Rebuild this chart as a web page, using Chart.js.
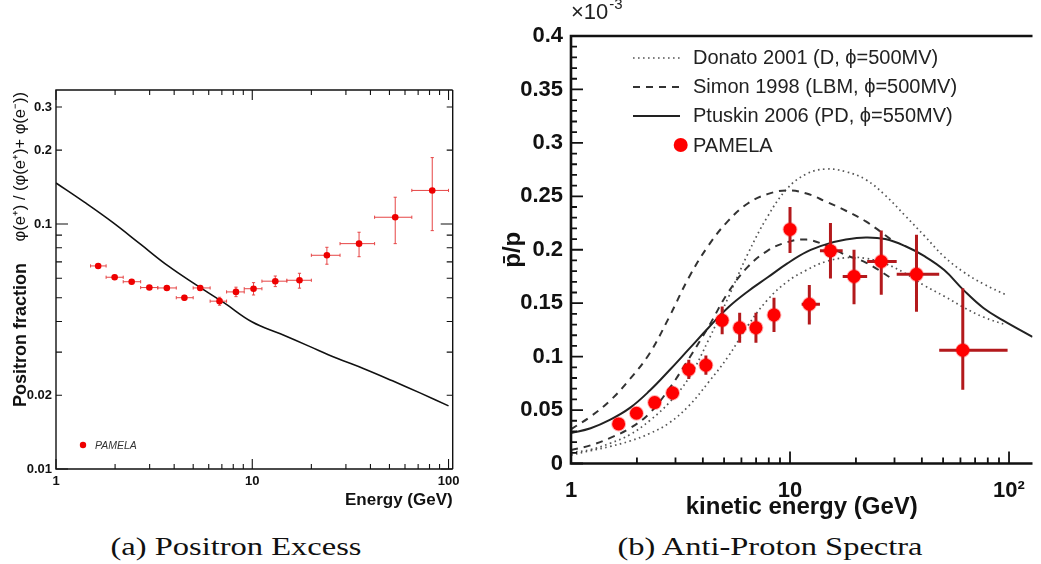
<!DOCTYPE html>
<html>
<head>
<meta charset="utf-8">
<script src="https://cdn.jsdelivr.net/npm/chart.js@4.4.0/dist/chart.umd.min.js"></script>
<style>
  body { margin: 0; background: #fff; width: 1041px; height: 564px; position: relative; overflow: hidden; }
  canvas { position: absolute; top: 0; }
  #graficoA { left: 0; }
  #graficoB { left: 490px; }
  .legenda { position: absolute; top: 532px; font-family: "Liberation Serif", serif; font-size: 26px; color: #111; white-space: nowrap; transform: translateX(-50%) scaleX(1.25); }
</style>
</head>
<body>
<canvas id="graficoA" width="480" height="530"></canvas>
<canvas id="graficoB" width="551" height="530"></canvas>
<div class="legenda" style="left:236px">(a) Positron Excess</div>
<div class="legenda" style="left:770px">(b) Anti-Proton Spectra</div>
<script>
// (a) fração de pósitrons do PAMELA
const posEnergia = [1.64, 1.99, 2.43, 2.99, 3.67, 4.51, 5.43, 6.81, 8.26, 10.15, 13.1, 17.4, 24.0, 35.0, 53.5, 82.6];
const posEnergiaMin = [1.5, 1.8, 2.2, 2.7, 3.3, 4.1, 5.0, 6.1, 7.4, 9.1, 11.2, 15.0, 20.0, 28.0, 42.0, 65.0];
const posEnergiaMax = [1.8, 2.2, 2.7, 3.3, 4.1, 5.0, 6.1, 7.4, 9.1, 11.2, 15.0, 20.0, 28.0, 42.0, 65.0, 100];
const posFracao = [0.0674, 0.0606, 0.0581, 0.0550, 0.0548, 0.0500, 0.0548, 0.0484, 0.0528, 0.0544, 0.0584, 0.0589, 0.0745, 0.0831, 0.1065, 0.137];
const posFracaoMin = [0.0661, 0.0595, 0.0570, 0.0540, 0.0538, 0.0489, 0.0535, 0.0466, 0.0505, 0.0513, 0.0555, 0.0547, 0.0685, 0.0735, 0.0831, 0.0939];
const posFracaoMax = [0.0687, 0.0617, 0.0592, 0.0560, 0.0558, 0.0511, 0.0561, 0.0502, 0.0552, 0.0576, 0.0613, 0.0629, 0.0803, 0.0925, 0.1285, 0.1865];

// curva secundária (sem excesso)
const modeloEnergia = [1, 1.389, 1.93, 2.683, 3.728, 5.179, 7.197, 10.0, 13.9, 19.3, 26.8, 37.3, 51.8, 72.0, 100];
const modeloFracao = [0.147, 0.123, 0.1019, 0.0829, 0.0674, 0.0564, 0.0476, 0.0398, 0.0356, 0.0318, 0.0284, 0.0256, 0.0229, 0.0204, 0.0181];

// (b) razão antipróton/próton (x10^-3)
const pbarEnergia = [1.65, 1.99, 2.41, 2.91, 3.45, 4.13, 4.90, 5.89, 6.99, 8.45, 10.0, 12.25, 15.3, 19.6, 26.1, 37.8, 61.5];
const pbarEnergiaMin = [1.6, 1.93, 2.34, 2.82, 3.35, 4.0, 4.75, 5.71, 6.78, 8.2, 9.7, 11.3, 13.7, 17.4, 22.5, 30.7, 48];
const pbarEnergiaMax = [1.7, 2.05, 2.48, 3.0, 3.55, 4.25, 5.05, 6.07, 7.2, 8.7, 10.3, 13.7, 17.4, 22.5, 30.7, 48, 98.5];
const pbarRazao = [0.037, 0.047, 0.057, 0.066, 0.088, 0.092, 0.134, 0.127, 0.127, 0.139, 0.219, 0.149, 0.199, 0.175, 0.189, 0.177, 0.106];
const pbarRazaoMin = [0.032, 0.042, 0.052, 0.060, 0.079, 0.083, 0.121, 0.113, 0.113, 0.123, 0.197, 0.130, 0.173, 0.149, 0.158, 0.142, 0.069];
const pbarRazaoMax = [0.042, 0.052, 0.062, 0.072, 0.097, 0.101, 0.147, 0.141, 0.141, 0.155, 0.240, 0.167, 0.225, 0.200, 0.218, 0.214, 0.164];

const ptuskinEnergia = [1, 1.229, 1.512, 1.858, 2.284, 2.808, 3.452, 4.244, 5.217, 6.414, 7.885, 9.69, 11.9, 14.6, 18.0, 22.2, 27.2, 33.5, 41.1, 50.6, 62.2, 76.4, 93.9, 128];
const ptuskinRazao = [0.0285, 0.033, 0.041, 0.052, 0.068, 0.087, 0.107, 0.127, 0.146, 0.161, 0.174, 0.187, 0.198, 0.205, 0.2095, 0.2115, 0.210, 0.2035, 0.194, 0.181, 0.162, 0.1455, 0.134, 0.1185];

const simonAltoEnergia = [1, 1.229, 1.512, 1.858, 2.284, 2.808, 3.452, 4.244, 5.217, 6.414, 7.885, 9.69, 11.9, 14.6, 18.0, 22.2, 29.2];
const simonAltoRazao = [0.032, 0.044, 0.059, 0.079, 0.103, 0.137, 0.174, 0.204, 0.227, 0.2433, 0.252, 0.2555, 0.2526, 0.245, 0.2365, 0.2265, 0.209];
const simonBaixoEnergia = [1, 1.229, 1.512, 1.858, 2.284, 2.808, 3.452, 4.244, 5.217, 6.414, 7.885, 9.69, 11.9, 14.6, 18.0, 22.2, 29.2];
const simonBaixoRazao = [0.0126, 0.017, 0.024, 0.033, 0.047, 0.070, 0.098, 0.128, 0.160, 0.184, 0.199, 0.207, 0.2095, 0.204, 0.195, 0.188, 0.173];

const donatoAltoEnergia = [1, 1.229, 1.512, 1.858, 2.284, 2.808, 3.452, 4.244, 5.217, 6.414, 7.885, 9.69, 11.9, 14.6, 18.0, 22.2, 27.2, 33.5, 41.1, 50.6, 62.2, 76.4, 97.4];
const donatoAltoRazao = [0.0103, 0.013, 0.019, 0.027, 0.040, 0.057, 0.080, 0.1155, 0.155, 0.196, 0.2308, 0.257, 0.271, 0.2755, 0.273, 0.2655, 0.251, 0.232, 0.213, 0.1934, 0.179, 0.168, 0.1576];
const donatoBaixoEnergia = [1, 1.229, 1.512, 1.858, 2.284, 2.808, 3.452, 4.244, 5.217, 6.414, 7.885, 9.69, 11.9, 14.6, 18.0, 22.2, 27.2, 33.5, 41.1, 50.6, 62.2, 76.4, 97.4];
const donatoBaixoRazao = [0.0079, 0.012, 0.016, 0.021, 0.028, 0.038, 0.054, 0.076, 0.100, 0.129, 0.153, 0.170, 0.181, 0.189, 0.1925, 0.192, 0.187, 0.178, 0.1665, 0.1565, 0.146, 0.137, 0.1295];

// rótulos e marcas dos eixos
const rotulosXA = [1, 10, 100];
const rotulosYA = [0.01, 0.02, 0.1, 0.2, 0.3];
const rotulosXB = [1, 10, 100];
const menoresLog = [2, 3, 4, 5, 6, 7, 8, 9, 20, 30, 40, 50, 60, 70, 80, 90];
const menoresYA = [0.02, 0.03, 0.04, 0.05, 0.06, 0.07, 0.08, 0.09, 0.2, 0.3];

Chart.defaults.font.family = '"Liberation Sans", Arial, sans-serif';
Chart.defaults.color = '#111';

const pares = (xs, ys) => xs.map((x, i) => ({ x, y: ys[i] }));

// moldura com marcas voltadas para dentro
function moldura(conf) {
  return {
    id: 'moldura',
    afterDraw(chart) {
      const { ctx, chartArea: a, scales: { x, y } } = chart;
      ctx.save();
      ctx.strokeStyle = conf.cor;
      ctx.lineWidth = conf.marcaLargura;
      ctx.beginPath();
      const marcasX = [...conf.x.maiores.map(v => [v, conf.x.maior]), ...conf.x.menores.map(v => [v, conf.x.menor])];
      marcasX.forEach(([v, len]) => {
        const px = x.getPixelForValue(v);
        if (px < a.left - 0.5 || px > a.right + 0.5) return;
        ctx.moveTo(px, a.bottom); ctx.lineTo(px, a.bottom - len);
        if (conf.espelho) { ctx.moveTo(px, a.top); ctx.lineTo(px, a.top + len); }
      });
      const marcasY = [...conf.y.maiores.map(v => [v, conf.y.maior]), ...conf.y.menores.map(v => [v, conf.y.menor])];
      marcasY.forEach(([v, len]) => {
        const py = y.getPixelForValue(v);
        ctx.moveTo(a.left, py); ctx.lineTo(a.left + len, py);
        if (conf.espelho) { ctx.moveTo(a.right, py); ctx.lineTo(a.right - len, py); }
      });
      ctx.stroke();
      ctx.lineWidth = conf.largura;
      ctx.beginPath();
      if (conf.lados.includes('left')) { ctx.moveTo(a.left, a.top); ctx.lineTo(a.left, a.bottom); }
      if (conf.lados.includes('bottom')) { ctx.moveTo(a.left - conf.largura / 2, a.bottom); ctx.lineTo(a.right, a.bottom); }
      if (conf.lados.includes('top')) { ctx.moveTo(a.left - conf.largura / 2, a.top); ctx.lineTo(a.right, a.top); }
      if (conf.lados.includes('right')) { ctx.moveTo(a.right, a.top); ctx.lineTo(a.right, a.bottom); }
      ctx.stroke();
      ctx.restore();
    }
  };
}

// barras de erro desenhadas logo antes dos pontos (dataset 0)
function barrasErro(conf) {
  return {
    id: 'barrasErro',
    beforeDatasetDraw(chart, args) {
      if (args.index !== 0) return;
      const { ctx, scales: { x, y } } = chart;
      ctx.save();
      ctx.strokeStyle = conf.cor;
      ctx.lineWidth = conf.largura;
      ctx.beginPath();
      conf.x.forEach((xv, i) => {
        const px = x.getPixelForValue(xv);
        const py = y.getPixelForValue(conf.y[i]);
        const x0 = x.getPixelForValue(conf.xMin[i]);
        const x1 = x.getPixelForValue(conf.xMax[i]);
        const y0 = y.getPixelForValue(conf.yMin[i]);
        const y1 = y.getPixelForValue(conf.yMax[i]);
        ctx.moveTo(x0, py); ctx.lineTo(x1, py);
        ctx.moveTo(px, y0); ctx.lineTo(px, y1);
        if (conf.tampa) {
          const t = conf.tampa;
          ctx.moveTo(x0, py - t); ctx.lineTo(x0, py + t);
          ctx.moveTo(x1, py - t); ctx.lineTo(x1, py + t);
          ctx.moveTo(px - t, y0); ctx.lineTo(px + t, y0);
          ctx.moveTo(px - t, y1); ctx.lineTo(px + t, y1);
        }
      });
      ctx.stroke();
      ctx.restore();
    }
  };
}

// título do eixo y em (a), com dois pesos de fonte
const tituloYA = {
  id: 'tituloYA',
  afterDraw(chart) {
    const { ctx } = chart;
    ctx.save();
    ctx.translate(20, 0);
    ctx.rotate(-Math.PI / 2);
    ctx.textBaseline = 'middle';
    ctx.fillStyle = '#111';
    ctx.textAlign = 'right';
    ctx.font = '16.5px "Liberation Sans", Arial, sans-serif';
    ctx.fillText('φ(e⁺) / (φ(e⁺)+ φ(e⁻))', -92, 0);
    ctx.textAlign = 'left';
    ctx.font = 'bold 18px "Liberation Sans", Arial, sans-serif';
    ctx.fillText('Positron fraction', -407, 1);
    ctx.restore();
  }
};

const legendaA = {
  id: 'legendaA',
  afterDraw(chart) {
    const { ctx } = chart;
    ctx.save();
    ctx.fillStyle = '#ee0000';
    ctx.beginPath();
    ctx.arc(83, 445, 3.2, 0, Math.PI * 2);
    ctx.fill();
    ctx.fillStyle = '#333';
    ctx.font = 'italic 10.5px "Liberation Sans", Arial, sans-serif';
    ctx.textBaseline = 'middle';
    ctx.fillText('PAMELA', 95, 446);
    ctx.restore();
  }
};

const legendaB = {
  id: 'legendaB',
  afterDraw(chart) {
    const { ctx } = chart;
    const linhas = chart.data.datasets.filter(d => d.rotulo);
    ctx.save();
    ctx.font = '20px "Liberation Sans", Arial, sans-serif';
    ctx.textBaseline = 'middle';
    linhas.forEach((d, i) => {
      const yy = 58 + i * 29;
      ctx.strokeStyle = d.borderColor;
      ctx.lineWidth = d.borderWidth;
      ctx.setLineDash(d.borderDash || []);
      ctx.beginPath();
      ctx.moveTo(143, yy); ctx.lineTo(190, yy);
      ctx.stroke();
      ctx.fillStyle = '#222';
      ctx.fillText(d.rotulo, 203, yy);
    });
    ctx.setLineDash([]);
    const yy = 58 + linhas.length * 29;
    ctx.fillStyle = '#ff0000';
    ctx.beginPath();
    ctx.arc(190.7, yy, 7, 0, Math.PI * 2);
    ctx.fill();
    ctx.fillStyle = '#222';
    ctx.fillText('PAMELA', 203, yy + 1);
    // fator de escala do eixo y
    ctx.font = '22px "Liberation Sans", Arial, sans-serif';
    ctx.fillText('×10', 81, 13);
    const w = ctx.measureText('×10').width;
    ctx.font = '15px "Liberation Sans", Arial, sans-serif';
    ctx.fillText('-3', 81 + w + 1, 5);
    ctx.restore();
  }
};

const semPadding = s => { s.paddingLeft = 0; s.paddingRight = 0; s.paddingTop = 0; s.paddingBottom = 0; };

// ---- (a) Positron Excess
new Chart(document.getElementById('graficoA'), {
  type: 'scatter',
  data: {
    datasets: [
      { label: 'PAMELA', data: pares(posEnergia, posFracao), pointRadius: 3.3, pointBackgroundColor: '#ee0000', pointBorderWidth: 0 },
      { label: 'modelo', data: pares(modeloEnergia, modeloFracao), showLine: true, borderColor: '#111', borderWidth: 1.6, pointRadius: 0, tension: 0.4 }
    ]
  },
  options: {
    responsive: false,
    animation: false,
    layout: { padding: { left: 0, right: 27.3, top: 90, bottom: 0 } },
    plugins: { legend: { display: false }, tooltip: { enabled: false } },
    scales: {
      x: {
        type: 'logarithmic', min: 1, max: 105,
        grid: { display: false, drawTicks: false }, border: { display: false },
        ticks: { font: { size: 13, weight: 'bold' }, padding: 5, maxRotation: 0, autoSkip: false, callback: v => String(v) },
        afterBuildTicks: s => { s.ticks = rotulosXA.map(v => ({ value: v })); },
        afterFit: s => { s.height = 61; semPadding(s); },
        title: { display: true, text: 'Energy (GeV)', align: 'end', font: { size: 17, weight: 'bold' }, padding: { top: 0, bottom: 19 } }
      },
      y: {
        type: 'logarithmic', min: 0.01, max: 0.352,
        grid: { display: false, drawTicks: false }, border: { display: false },
        ticks: { font: { size: 13, weight: 'bold' }, padding: 4, autoSkip: false, callback: v => String(v) },
        afterBuildTicks: s => { s.ticks = rotulosYA.map(v => ({ value: v })); },
        afterFit: s => { s.width = 56; semPadding(s); }
      }
    }
  },
  plugins: [
    moldura({ cor: '#111', largura: 1.4, marcaLargura: 1.1, espelho: true, lados: ['left', 'bottom', 'top', 'right'],
      x: { maiores: [1, 10, 100], menores: menoresLog, maior: 10, menor: 5 },
      y: { maiores: [0.01, 0.1], menores: menoresYA, maior: 12, menor: 6 } }),
    barrasErro({ cor: '#e64545', largura: 1, tampa: 1.6, x: posEnergia, y: posFracao, xMin: posEnergiaMin, xMax: posEnergiaMax, yMin: posFracaoMin, yMax: posFracaoMax }),
    legendaA, tituloYA
  ]
});

// ---- (b) Anti-Proton Spectra
const marcasB = [];
for (let v = 0; v <= 0.4001; v += 0.05) marcasB.push(+v.toFixed(2));
const menoresB = [];
for (let v = 0.01; v < 0.4; v += 0.01) menoresB.push(+v.toFixed(2));

const linhaModelo = { showLine: true, pointRadius: 0, tension: 0.4 };

new Chart(document.getElementById('graficoB'), {
  type: 'scatter',
  data: {
    datasets: [
      { label: 'PAMELA', data: pares(pbarEnergia, pbarRazao), pointRadius: 6.5, pointBackgroundColor: '#ff0000', pointBorderColor: 'rgba(255,0,0,0.3)', pointBorderWidth: 2 },
      { ...linhaModelo, label: 'Ptuskin', data: pares(ptuskinEnergia, ptuskinRazao), borderColor: '#222', borderWidth: 2 },
      { ...linhaModelo, label: 'Simon alto', data: pares(simonAltoEnergia, simonAltoRazao), borderColor: '#333', borderWidth: 2, borderDash: [7, 6] },
      { ...linhaModelo, label: 'Simon baixo', data: pares(simonBaixoEnergia, simonBaixoRazao), borderColor: '#333', borderWidth: 2, borderDash: [7, 6] },
      { ...linhaModelo, label: 'Donato alto', data: pares(donatoAltoEnergia, donatoAltoRazao), borderColor: '#555', borderWidth: 1.7, borderDash: [1.6, 3.4] },
      { ...linhaModelo, label: 'Donato baixo', data: pares(donatoBaixoEnergia, donatoBaixoRazao), borderColor: '#555', borderWidth: 1.7, borderDash: [1.6, 3.4] },
      // só para a legenda
      { label: 'leg1', rotulo: 'Donato 2001 (D, ϕ=500MV)', data: [], borderColor: '#555', borderWidth: 1.7, borderDash: [1.6, 3.4] },
      { label: 'leg2', rotulo: 'Simon 1998 (LBM, ϕ=500MV)', data: [], borderColor: '#333', borderWidth: 2, borderDash: [7, 6] },
      { label: 'leg3', rotulo: 'Ptuskin 2006 (PD, ϕ=550MV)', data: [], borderColor: '#222', borderWidth: 2 }
    ]
  },
  options: {
    responsive: false,
    animation: false,
    layout: { padding: { left: 0, right: 0, top: 36, bottom: 0 } },
    plugins: { legend: { display: false }, tooltip: { enabled: false } },
    scales: {
      x: {
        type: 'logarithmic', min: 1, max: 128,
        grid: { display: false, drawTicks: false }, border: { display: false },
        ticks: { font: { size: 22, weight: 'bold' }, padding: 14, maxRotation: 0, autoSkip: false, callback: v => (v === 100 ? '10²' : String(v)) },
        afterBuildTicks: s => { s.ticks = rotulosXB.map(v => ({ value: v })); },
        afterFit: s => { s.height = 66.5; semPadding(s); },
        title: { display: true, text: 'kinetic energy (GeV)', font: { size: 24, weight: 'bold' }, padding: { top: 0, bottom: 8 } }
      },
      y: {
        min: 0, max: 0.4,
        grid: { display: false, drawTicks: false }, border: { display: false },
        ticks: { stepSize: 0.05, font: { size: 22, weight: 'bold' }, padding: 8, autoSkip: false, callback: v => String(+v.toFixed(3)) },
        afterFit: s => { s.width = 81; semPadding(s); },
        title: { display: true, text: 'p̄/p', font: { size: 24, weight: 'bold' }, padding: { top: 9, bottom: 0 } }
      }
    }
  },
  plugins: [
    moldura({ cor: '#111', largura: 2.6, marcaLargura: 1.8, espelho: false, lados: ['left', 'bottom', 'top'],
      x: { maiores: [1, 10, 100], menores: menoresLog, maior: 12, menor: 6 },
      y: { maiores: marcasB, menores: menoresB, maior: 12, menor: 6 } }),
    barrasErro({ cor: '#b3191c', largura: 3, tampa: 0, x: pbarEnergia, y: pbarRazao, xMin: pbarEnergiaMin, xMax: pbarEnergiaMax, yMin: pbarRazaoMin, yMax: pbarRazaoMax }),
    legendaB
  ]
});
</script>
</body>
</html>
